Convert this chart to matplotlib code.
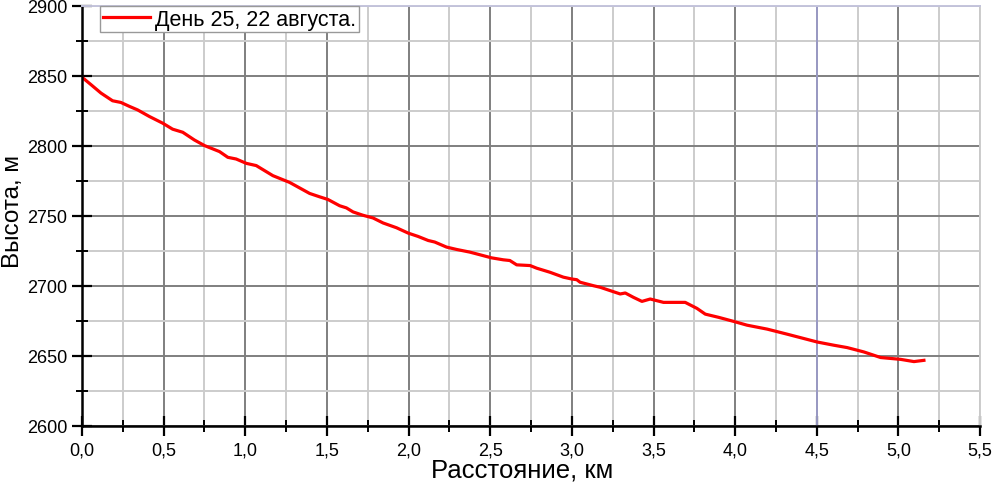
import numpy as np
import matplotlib.pyplot as plt
from matplotlib.ticker import MultipleLocator, FuncFormatter

plt.rcParams['font.family'] = ['Liberation Sans', 'DejaVu Sans']

# distance, km and altitude, m
dist = [0.0, 0.055, 0.116, 0.187, 0.238, 0.29, 0.34, 0.412, 0.494, 0.555,
        0.617, 0.688, 0.75, 0.842, 0.893, 0.944, 1.006, 1.067, 1.169, 1.271,
        1.394, 1.455, 1.506, 1.578, 1.619, 1.66, 1.721, 1.782, 1.844, 1.926,
        1.997, 2.058, 2.12, 2.16, 2.232, 2.294, 2.375, 2.437, 2.508, 2.58,
        2.62, 2.662, 2.744, 2.785, 2.866, 2.948, 2.999, 3.03, 3.05, 3.132,
        3.173, 3.224, 3.296, 3.327, 3.377, 3.429, 3.48, 3.561, 3.694, 3.766,
        3.817, 3.899, 3.991, 4.073, 4.196, 4.318, 4.502, 4.604, 4.686, 4.788,
        4.891, 5.013, 5.095, 5.156]
alt = [2849.1, 2843.8, 2837.8, 2832.3, 2831.1, 2828.3, 2825.8, 2821.1, 2816.3, 2812.0,
       2809.8, 2804.3, 2800.3, 2796.0, 2791.9, 2790.7, 2787.6, 2786.0, 2778.8, 2774.0,
       2766.1, 2763.7, 2761.8, 2757.3, 2755.8, 2752.9, 2750.5, 2748.6, 2745.0, 2741.6,
       2737.8, 2735.4, 2732.5, 2731.4, 2727.8, 2726.1, 2724.2, 2722.3, 2720.1, 2718.7,
       2718.2, 2715.1, 2714.6, 2712.7, 2709.8, 2706.3, 2705.0, 2704.5, 2702.7, 2700.2,
       2699.1, 2697.1, 2694.3, 2695.0, 2691.9, 2689.0, 2690.7, 2688.3, 2688.3, 2684.0,
       2679.9, 2677.6, 2674.7, 2672.0, 2669.2, 2665.6, 2660.0, 2657.7, 2656.0, 2652.9,
       2648.9, 2647.6, 2646.0, 2646.9]

fig = plt.figure(figsize=(9.93, 4.85), dpi=100)
ax = fig.add_axes([0.0826, 0.1196, 0.9044, 0.866])

ax.plot(dist, alt, color='#ff0000', lw=2.3, solid_joinstyle='round',
        label='День 25, 22 августа.')

ax.set_xlim(0, 5.5)
ax.set_ylim(2600, 2900)
ax.xaxis.set_major_locator(MultipleLocator(0.5))
ax.xaxis.set_minor_locator(MultipleLocator(0.25))
ax.yaxis.set_major_locator(MultipleLocator(50))
ax.yaxis.set_minor_locator(MultipleLocator(25))
ax.xaxis.set_major_formatter(FuncFormatter(lambda v, p: f'{v:.1f}'.replace('.', ',')))

ax.grid(which='major', color='#7f7f7f', lw=1.4)
ax.grid(which='minor', color='#cccccc', lw=1.4)
ax.set_axisbelow(True)
# the 4,5 km line is drawn bluish in the original
ax.axvline(4.5, color='#9a9ac4', lw=1.4, zorder=0.6)

for s in ['top', 'right']:
    ax.spines[s].set_color('#cccccc')
    ax.spines[s].set_linewidth(1.4)
ax.spines['top'].set_color('#c4c4dc')
for s in ['left', 'bottom']:
    ax.spines[s].set_linewidth(1.8)

ax.tick_params(which='major', direction='inout', length=14, width=1.6, labelsize=13)
ax.tick_params(which='minor', direction='inout', length=8, width=1.4)
ax.tick_params(axis='x', pad=4)

ax.set_xlabel('Расстояние, км', fontsize=18.5, va='baseline')
ax.xaxis.set_label_coords(0.49, -0.1214)
ax.set_ylabel('Высота, м', fontsize=17.5, va='baseline')
ax.yaxis.set_label_coords(-0.0705, 0.5126)

leg = ax.legend(loc='upper left', bbox_to_anchor=(0.02, 1.0), fontsize=15.5,
                fancybox=False, framealpha=1, edgecolor='#999999',
                borderpad=0.12, handlelength=2.2, handletextpad=0.25, borderaxespad=0)
leg.get_frame().set_linewidth(1.0)

fig.savefig('out.png', dpi=100)
